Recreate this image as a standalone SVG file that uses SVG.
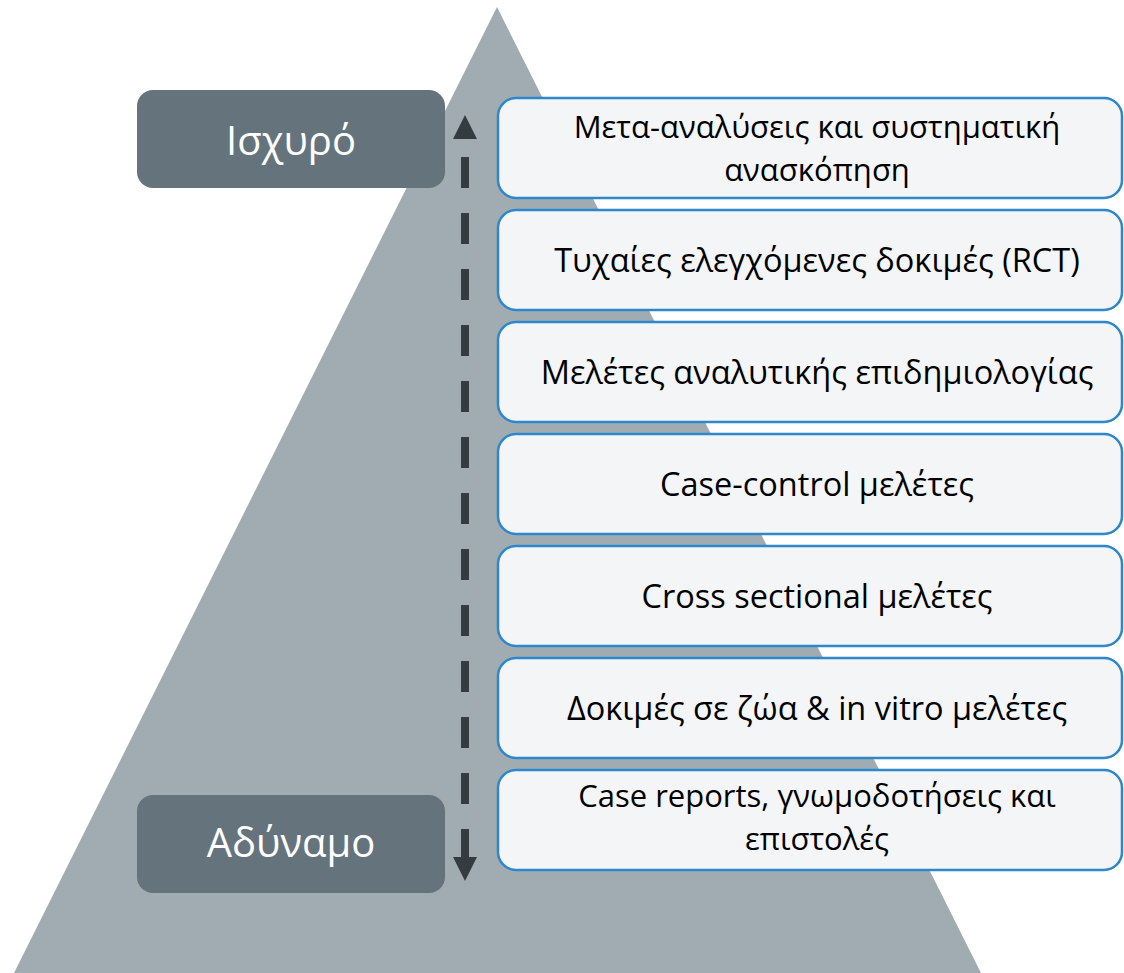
<svg xmlns="http://www.w3.org/2000/svg" width="1124" height="973" viewBox="0 0 1124 973">
<style>
.lbl rect{fill:#65747C}
.lbl text{fill:#fff;font-family:"Open Sans","Noto Sans",sans-serif;font-size:40px;text-anchor:middle}
.lvl rect{fill:#F4F5F7;stroke:#2E86CB;stroke-width:2.5}
.lvl text{fill:#000;font-family:"Open Sans","Noto Sans",sans-serif;font-size:32.5px;text-anchor:middle}
.lvl text.two{font-size:31px}
</style>
<rect width="1124" height="973" fill="#fff"/>
<polygon id="pyramid" points="497,7 13,975 982,975" fill="#A1ACB2"/>
<g id="strong" class="lbl"><rect x="137" y="90" width="308" height="98" rx="16"/><text x="291" y="155">Ισχυρό</text></g>
<g id="weak" class="lbl"><rect x="137" y="795" width="308" height="98" rx="16"/><text x="291" y="857">Αδύναμο</text></g>
<g id="connectors" fill="#343C41" stroke="#343C41">
<line x1="465" y1="157" x2="465" y2="860" stroke-width="8" stroke-dasharray="31 25"/>
<polygon points="465,115 477,139 453,139" stroke="none"/>
<polygon points="465,881 477,857 453,857" stroke="none"/>
</g>
<g id="level1" class="lvl"><rect x="498" y="98" width="624" height="100" rx="18"/><text class="two" x="817" y="138">Μετα-αναλύσεις και συστηματική</text><text class="two" x="817" y="181">ανασκόπηση</text></g>
<g id="level2" class="lvl"><rect x="498" y="210" width="624" height="100" rx="18"/><text x="817" y="272">Τυχαίες ελεγχόμενες δοκιμές (RCT)</text></g>
<g id="level3" class="lvl"><rect x="498" y="322" width="624" height="100" rx="18"/><text x="817" y="384">Μελέτες αναλυτικής επιδημιολογίας</text></g>
<g id="level4" class="lvl"><rect x="498" y="434" width="624" height="100" rx="18"/><text x="817" y="496">Case-control μελέτες</text></g>
<g id="level5" class="lvl"><rect x="498" y="546" width="624" height="100" rx="18"/><text x="817" y="608">Cross sectional μελέτες</text></g>
<g id="level6" class="lvl"><rect x="498" y="658" width="624" height="100" rx="18"/><text x="817" y="720">Δοκιμές σε ζώα &amp; in vitro μελέτες</text></g>
<g id="level7" class="lvl"><rect x="498" y="770" width="624" height="100" rx="18"/><text class="two" x="817" y="807">Case reports, γνωμοδοτήσεις και</text><text class="two" x="817" y="850">επιστολές</text></g>
</svg>
